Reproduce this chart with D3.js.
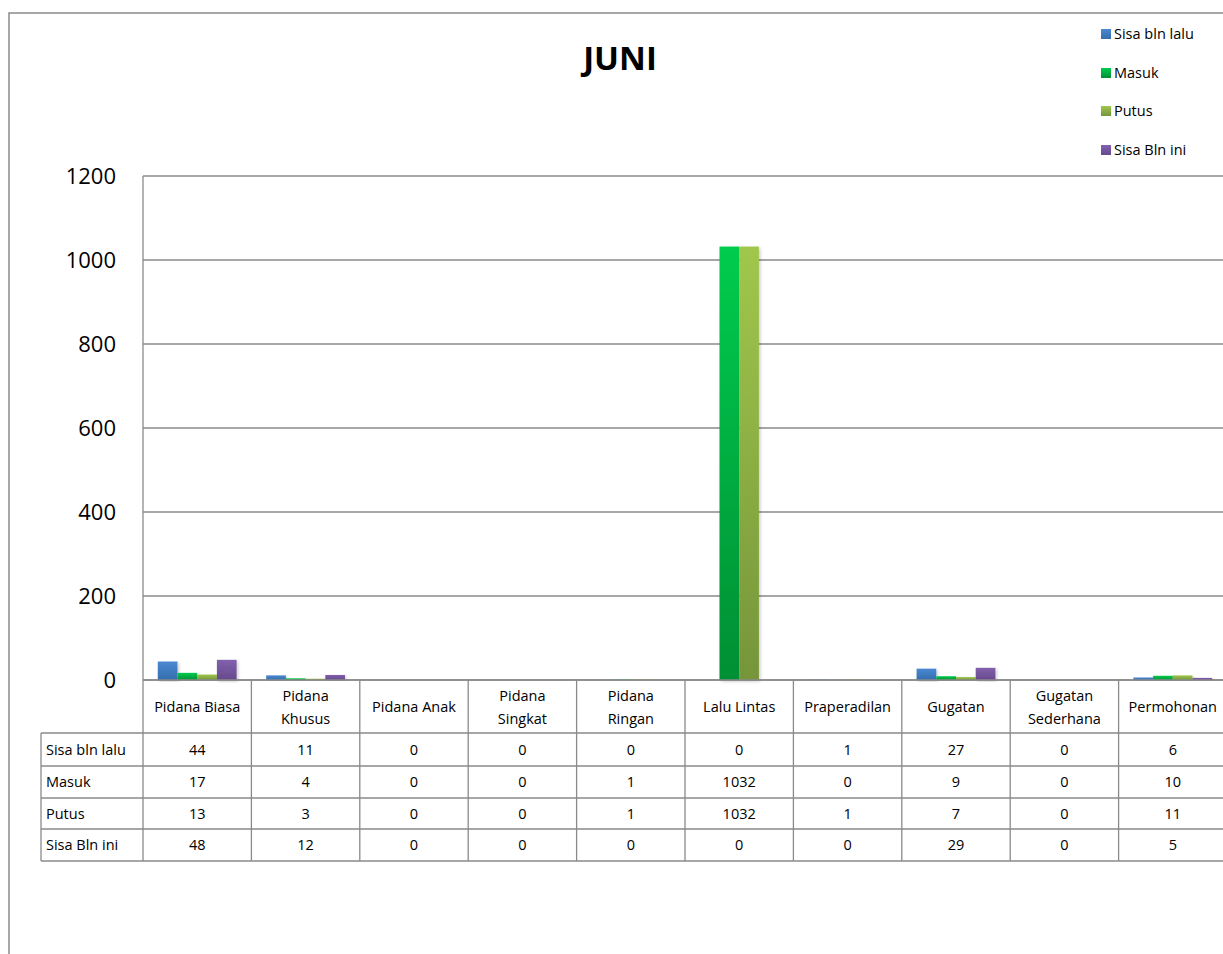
<!DOCTYPE html>
<html><head><meta charset="utf-8">
<script src="https://cdn.jsdelivr.net/npm/d3@7"></script>
<style>
html,body{margin:0;padding:0;background:#fff;overflow:hidden}
text{font-family:"Open Sans",sans-serif;fill:#000}
</style></head>
<body>
<svg id="c" width="1223" height="954"></svg>
<script>
const categories = ["Pidana Biasa","Pidana Khusus","Pidana Anak","Pidana Singkat","Pidana Ringan","Lalu Lintas","Praperadilan","Gugatan","Gugatan Sederhana","Permohonan"];
const categoryLines = [["Pidana Biasa"],["Pidana","Khusus"],["Pidana Anak"],["Pidana","Singkat"],["Pidana","Ringan"],["Lalu Lintas"],["Praperadilan"],["Gugatan"],["Gugatan","Sederhana"],["Permohonan"]];
const seriesNames = ["Sisa bln lalu","Masuk","Putus","Sisa Bln ini"];
const sisaBlnLalu = [44,11,0,0,0,0,1,27,0,6];
const masuk = [17,4,0,0,1,1032,0,9,0,10];
const putus = [13,3,0,0,1,1032,1,7,0,11];
const sisaBlnIni = [48,12,0,0,0,0,0,29,0,5];
const seriesValues = [sisaBlnLalu, masuk, putus, sisaBlnIni];
const yTicks = [0,200,400,600,800,1000,1200];
const title = "JUNI";
const colorsTop = ["#4a88d2","#00cc4d","#a0c74c","#8260ad"];
const colorsBot = ["#346ead","#008f34","#76953a","#664a8c"];

(function(){
const svg = d3.select("#c");
const defs = svg.append("defs");
seriesNames.forEach((s,i)=>{
  const g = defs.append("linearGradient").attr("id","g"+i).attr("x1",0).attr("x2",0).attr("y1",0).attr("y2",1);
  g.append("stop").attr("offset","0%").attr("stop-color",colorsTop[i]);
  g.append("stop").attr("offset","100%").attr("stop-color",colorsBot[i]);
});
const f = defs.append("filter").attr("id","sh").attr("x","-20%").attr("y","-5%").attr("width","150%").attr("height","115%");
f.append("feDropShadow").attr("dx",1.5).attr("dy",1.5).attr("stdDeviation",1.5).attr("flood-color","#000").attr("flood-opacity",0.2);

const gray = "#8a8a8a";
svg.append("rect").attr("x",9).attr("y",13).attr("width",1400).attr("height",1200)
  .attr("fill","none").attr("stroke",gray).attr("stroke-width",1.5);

const pLeft = 143, catW = 108.4, pTop = 176, pBottom = 680;
const x = d3.scaleBand().domain(categories).range([pLeft, pLeft + catW*categories.length]).padding(0);
const barW = x.bandwidth()/5.5;
const xs = d3.scaleBand().domain(seriesNames).range([0.75*barW, 4.75*barW]).padding(0);
const y = d3.scaleLinear().domain([0,1200]).range([pBottom, pTop]);

svg.append("g").selectAll("line").data(yTicks).join("line")
  .attr("x1",pLeft).attr("x2",1400).attr("y1",d=>y(d)).attr("y2",d=>y(d))
  .attr("stroke",gray).attr("stroke-width",1.3);
svg.append("line").attr("x1",pLeft).attr("x2",pLeft).attr("y1",pTop).attr("y2",861).attr("stroke",gray).attr("stroke-width",1.3);

const yAxis = d3.axisLeft(y).tickValues(yTicks).tickFormat(d3.format("d")).tickSize(0).tickPadding(0);
const ya = svg.append("g").attr("transform",`translate(116,0)`).call(yAxis);
ya.select(".domain").remove();
ya.selectAll("text").attr("font-family","Open Sans").attr("font-size",22).attr("fill","#000").attr("dy","0.35em");

const bars = svg.append("g");
seriesNames.forEach((s,i)=>{
  bars.append("g").selectAll("rect").data(categories.map((c,j)=>({c,v:seriesValues[i][j]})).filter(d=>d.v>0)).join("rect")
    .attr("x",d=>x(d.c)+xs(s)).attr("width",xs.bandwidth())
    .attr("y",d=>y(d.v)).attr("height",d=>y(0)-y(d.v))
    .attr("fill",`url(#g${i})`).attr("filter","url(#sh)");
});
svg.append("line").attr("x1",pLeft).attr("x2",1400).attr("y1",pBottom).attr("y2",pBottom).attr("stroke",gray).attr("stroke-width",1.3);

const rowTops = [733,766,798,829,861];
const tg = svg.append("g");
categories.forEach((c,j)=>{
  tg.append("line").attr("x1",x(c)+catW).attr("x2",x(c)+catW).attr("y1",pBottom).attr("y2",861).attr("stroke",gray).attr("stroke-width",1.3);
});
rowTops.forEach(ry=>{
  tg.append("line").attr("x1",41).attr("x2",1400).attr("y1",ry).attr("y2",ry).attr("stroke",gray).attr("stroke-width",1.3);
});
tg.append("line").attr("x1",41).attr("x2",41).attr("y1",733).attr("y2",861).attr("stroke",gray).attr("stroke-width",1.3);

const fs = 14.5;
categories.forEach((c,j)=>{
  const lines = categoryLines[j];
  const cx = x(c)+catW/2;
  const cy = 707;
  lines.forEach((ln,k)=>{
    tg.append("text").attr("x",cx).attr("y",cy + (k-(lines.length-1)/2)*23).attr("dy","0.35em")
      .attr("text-anchor","middle").attr("font-size",fs).text(ln);
  });
});
seriesNames.forEach((s,i)=>{
  const cy = (rowTops[i]+rowTops[i+1])/2;
  tg.append("text").attr("x",46).attr("y",cy).attr("dy","0.35em").attr("font-size",fs).text(s);
  categories.forEach((c,j)=>{
    tg.append("text").attr("x",x(c)+catW/2).attr("y",cy).attr("dy","0.35em").attr("text-anchor","middle")
      .attr("font-size",fs).text(seriesValues[i][j]);
  });
});

svg.append("text").attr("x",620).attr("y",70).attr("text-anchor","middle").attr("font-size",33).attr("font-weight","bold").text(title);

const legY = [34,73,111,150];
seriesNames.forEach((s,i)=>{
  svg.append("rect").attr("x",1101).attr("y",legY[i]-5).attr("width",10).attr("height",10).attr("fill",`url(#g${i})`);
  svg.append("text").attr("x",1114).attr("y",legY[i]).attr("dy","0.35em").attr("font-size",fs).text(s);
});
})();
</script>
</body></html>
